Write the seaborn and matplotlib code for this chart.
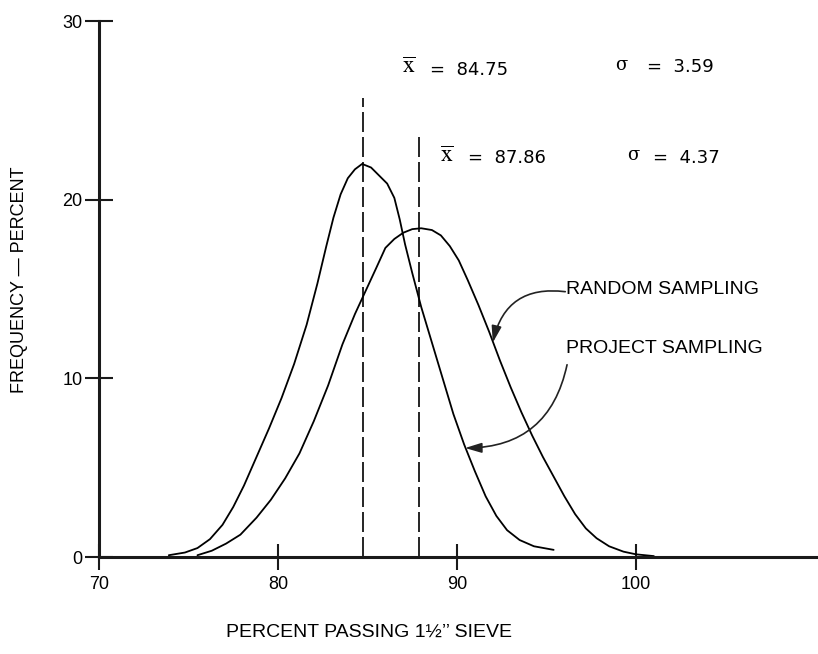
import pandas as pd
import matplotlib.pyplot as plt
import seaborn as sns

# Curves (percent passing vs frequency %)
project_x = [73.9, 74.8, 75.5, 76.2, 76.9, 77.5, 78.1, 78.8, 79.5, 80.2, 80.9,
             81.6, 82.2, 82.7, 83.1, 83.5, 83.9, 84.3, 84.7, 85.2, 85.7, 86.1,
             86.5, 86.8, 87.1, 87.5, 88.0, 88.6, 89.2, 89.8, 90.4, 91.0, 91.6,
             92.2, 92.8, 93.5, 94.3, 95.4]
project_y = [0.1, 0.25, 0.5, 1.0, 1.8, 2.8, 4.0, 5.6, 7.2, 8.9, 10.8,
             13.0, 15.3, 17.4, 19.0, 20.3, 21.2, 21.7, 22.0, 21.8, 21.3, 20.9,
             20.1, 18.9, 17.5, 15.9, 14.0, 12.0, 10.0, 8.0, 6.3, 4.8, 3.4,
             2.3, 1.5, 0.95, 0.6, 0.4]

random_x = [75.5, 76.3, 77.1, 77.9, 78.8, 79.6, 80.4, 81.2, 82.0, 82.8, 83.6,
            84.3, 84.9, 85.5, 86.0, 86.5, 87.0, 87.5, 88.0, 88.6, 89.1, 89.6,
            90.1, 90.6, 91.2, 91.8, 92.4, 93.0, 93.6, 94.2, 94.8, 95.4, 96.0,
            96.6, 97.2, 97.8, 98.5, 99.3, 100.0, 101.0]
random_y = [0.1, 0.35, 0.75, 1.25, 2.2, 3.2, 4.4, 5.8, 7.6, 9.6, 11.9,
            13.6, 14.9, 16.2, 17.3, 17.8, 18.15, 18.35, 18.4, 18.3, 18.0, 17.4,
            16.6, 15.5, 14.1, 12.6, 11.0, 9.5, 8.1, 6.8, 5.6, 4.5, 3.4,
            2.4, 1.6, 1.05, 0.6, 0.3, 0.15, 0.05]

means = [84.75, 87.86]
sigmas = [3.59, 4.37]
mean_tops = [25.7, 23.6]

x_ticks = [70, 80, 90, 100]
y_ticks = [0, 10, 20, 30]

sns.set_theme(style="white")
plt.rcParams['font.family'] = ['Liberation Sans', 'DejaVu Sans']
plt.rcParams['mathtext.fontset'] = 'stix'
for key in ['text.color', 'axes.labelcolor', 'xtick.color', 'ytick.color']:
    plt.rcParams[key] = 'black'

fig = plt.figure(figsize=(8.18, 6.54), dpi=100)
ax = fig.add_axes([99 / 818, 97 / 654, 719 / 818, 536 / 654])

proj = pd.DataFrame({'x': project_x, 'y': project_y})
rand = pd.DataFrame({'x': random_x, 'y': random_y})
sns.lineplot(data=proj, x='x', y='y', ax=ax, color='black', lw=1.3,
             sort=False, estimator=None)
sns.lineplot(data=rand, x='x', y='y', ax=ax, color='black', lw=1.3,
             sort=False, estimator=None)

# dashed mean lines
for m, top in zip(means, mean_tops):
    ax.plot([m, m], [0, top], color='black', lw=1.2, linestyle=(0, (12, 3)))

ax.set_xlim(70, 110.17)
ax.set_ylim(0, 30)
ax.set_xticks(x_ticks)
ax.set_yticks(y_ticks)
ax.set_xlabel('')
ax.set_ylabel('')

for side in ['top', 'right']:
    ax.spines[side].set_visible(False)
for side in ['left', 'bottom']:
    ax.spines[side].set_linewidth(2.2)
    ax.spines[side].set_color('#1a1a1a')

ax.tick_params(axis='y', direction='inout', length=20, width=1.5,
               labelsize=13, pad=2, color='#1a1a1a', left=True)
ax.tick_params(axis='x', direction='inout', length=19, width=1.5,
               labelsize=13, pad=4, color='#1a1a1a', bottom=True)

# statistics annotations
stat_rows = [(86.93, 88.49, 27.28, 98.83, 100.61, 27.4),
             (89.05, 90.61, 22.35, 99.5, 100.95, 22.35)]
for (xb, xv, yy, xs, xsv, ys), m, s in zip(stat_rows, means, sigmas):
    ax.text(xb, yy + 0.1, r'$\overline{\mathrm{x}}$', fontsize=17, ha='left', va='center')
    ax.text(xv, yy, f'=  {m:.2f}', fontsize=13, ha='left', va='center',
            family=['DejaVu Sans'])
    ax.text(xs, ys + 0.15, 'σ', fontsize=13, ha='left', va='center',
            family=['DejaVu Serif'])
    ax.text(xsv, ys, f'=  {s:.2f}', fontsize=13, ha='left', va='center',
            family=['DejaVu Sans'])

ax.text(96.09, 14.96, 'RANDOM SAMPLING', fontsize=14, ha='left', va='center')
ax.text(96.09, 11.65, 'PROJECT SAMPLING', fontsize=14, ha='left', va='center')

arrow = dict(arrowstyle='-|>,head_length=1.0,head_width=0.3', color='#222222',
             lw=1.2, shrinkA=0, shrinkB=0, mutation_scale=10)
ax.annotate('', xy=(92.0, 12.0), xytext=(96.05, 14.85),
            arrowprops=dict(arrow, connectionstyle='arc3,rad=0.45'))
ax.annotate('', xy=(90.45, 6.1), xytext=(96.15, 10.76),
            arrowprops=dict(arrow, connectionstyle='arc3,rad=-0.4'))

fig.text(20 / 818, 1 - 280 / 654, 'FREQUENCY — PERCENT', rotation=90,
         ha='center', va='center', fontsize=13)
fig.text(369 / 818, 1 - 632 / 654, 'PERCENT PASSING 1½’’ SIEVE',
         ha='center', va='center', fontsize=14)

fig.savefig('out.png', dpi=100)
